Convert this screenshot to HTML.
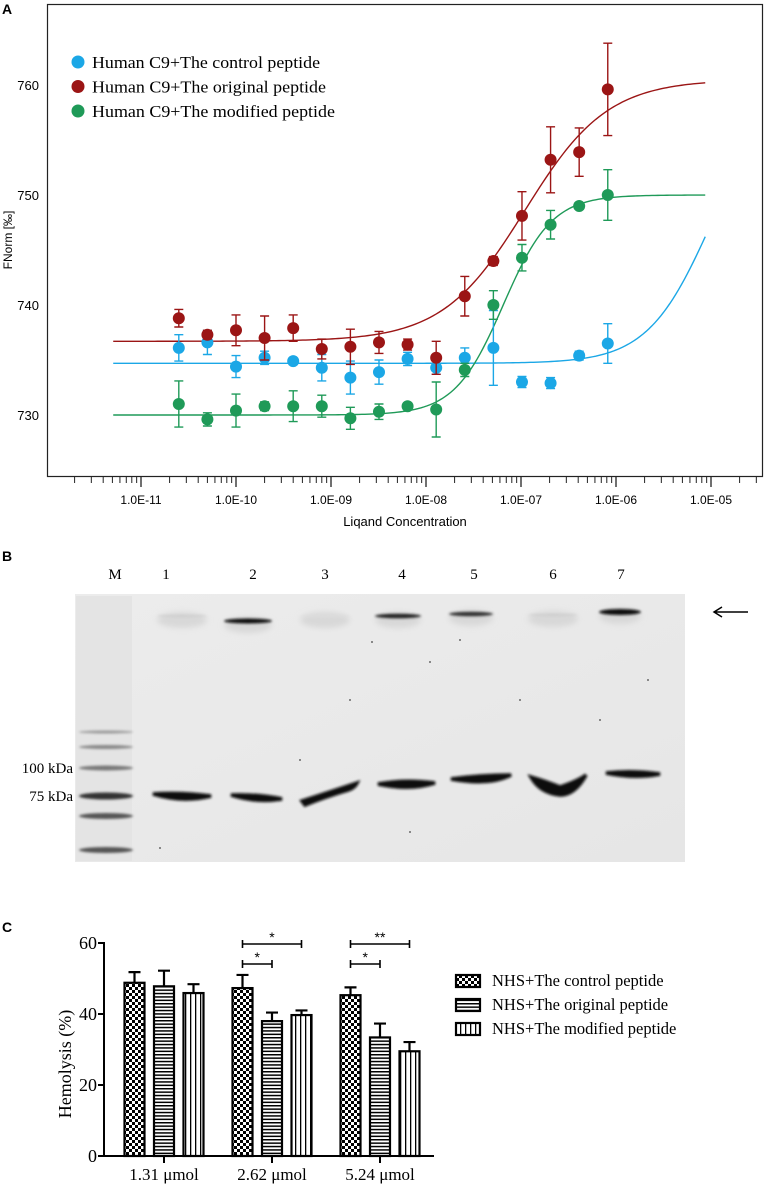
<!DOCTYPE html>
<html><head><meta charset="utf-8"><style>
html,body{margin:0;padding:0;background:#fff;}
svg{display:block;}
.sans{font-family:"Liberation Sans",sans-serif;}
.serif{font-family:"Liberation Serif",serif;}
</style></head><body>
<svg id="fig" width="765" height="1188" viewBox="0 0 765 1188" xmlns="http://www.w3.org/2000/svg">
<defs>
  <pattern id="pCheck" width="6" height="6" patternUnits="userSpaceOnUse"><rect width="6" height="6" fill="#fff"/><rect width="3" height="3" fill="#000"/><rect x="3" y="3" width="3" height="3" fill="#000"/></pattern>
  <pattern id="pHor" width="6" height="3.4" patternUnits="userSpaceOnUse"><rect width="6" height="3.4" fill="#fff"/><rect width="6" height="1.5" fill="#000"/></pattern>
  <pattern id="pVer" width="5" height="6" patternUnits="userSpaceOnUse"><rect width="5" height="6" fill="#fff"/><rect width="1.3" height="6" fill="#000"/></pattern>
  <filter id="blur1" x="-20%" y="-100%" width="140%" height="300%"><feGaussianBlur stdDeviation="1.2"/></filter>
  <filter id="blur3" x="-20%" y="-100%" width="140%" height="300%"><feGaussianBlur stdDeviation="3"/></filter>
  <linearGradient id="gelGrad" x1="0" y1="0" x2="1" y2="1"><stop offset="0" stop-color="#ececec"/><stop offset="1" stop-color="#e6e6e6"/></linearGradient>
</defs>
<g id="panelA"></g>
<g id="panelB"></g>
<g id="panelC"></g>
</svg>
<script>
// ---------- Panel A data ----------
const concIndex = [0,1,2,3,4,5,6,7,8,9,10,11,12,13,14,15];
const concBase = 2.5e-11;
const seriesNames = ["Human C9+The control peptide","Human C9+The original peptide","Human C9+The modified peptide"];
const controlVals = [736.1,736.6,734.4,735.2,734.9,734.3,733.4,733.9,735.1,734.3,735.2,736.1,733.0,732.9,735.4,736.5];
const controlErr  = [1.2,1.1,1.0,0.6,0.3,1.2,1.5,1.1,0.6,0.6,0.9,3.4,0.5,0.5,0.4,1.8];
const originalVals = [738.8,737.3,737.7,737.0,737.9,736.0,736.2,736.6,736.4,735.2,740.8,744.0,748.1,753.2,753.9,759.6];
const originalErr  = [0.8,0.4,1.4,2.0,1.2,0.9,1.6,1.0,0.5,1.5,1.8,0.4,2.2,3.0,2.2,4.2];
const modifiedVals = [731.0,729.6,730.4,730.8,730.8,730.8,729.7,730.3,730.8,730.5,734.1,740.0,744.3,747.3,749.0,750.0];
const modifiedErr  = [2.1,0.6,1.5,0.4,1.4,1.0,1.0,0.7,0.3,2.5,0.6,1.3,1.2,1.3,0.3,2.3];
const fitControl = [734.7,760,1e-5,1.3];
const fitOriginal = [736.7,760.5,1.1e-7,1.0];
const fitModified = [730.0,750.0,6.5e-8,1.7];
const yTicksA = [730,740,750,760];
const xDecadeLabels = ["1.0E-11","1.0E-10","1.0E-09","1.0E-08","1.0E-07","1.0E-06","1.0E-05"];
const xDecades = [-11,-10,-9,-8,-7,-6,-5];

// ---------- Panel C data ----------
const groups = ["1.31 μmol","2.62 μmol","5.24 μmol"];
const hemControl = [48.8,47.3,45.3];
const hemControlErr = [3.0,3.7,2.2];
const hemOriginal = [47.8,38.0,33.4];
const hemOriginalErr = [4.4,2.4,3.9];
const hemModified = [45.9,39.7,29.5];
const hemModifiedErr = [2.5,1.3,2.6];
const hemTicks = [0,20,40,60];
const legendC = ["NHS+The control peptide","NHS+The original peptide","NHS+The modified peptide"];

const NS="http://www.w3.org/2000/svg";
function mk(tag, attrs, parent){const e=document.createElementNS(NS,tag);for(const k in attrs)e.setAttribute(k,attrs[k]);parent.appendChild(e);return e;}

// ===== Panel A =====
const A=document.getElementById('panelA');
const xA = c => 141 + (Math.log10(c)+11)*95;
const yA = v => 85 + (760-v)*11;
let t;
t=mk('text',{x:2,y:14,'font-size':14,'font-weight':'bold',class:'sans'},A);t.textContent='A';


let r=mk('rect',{x:47.5,y:4.5,width:715,height:472,fill:'none',stroke:'#222','stroke-width':1.2},A);


yTicksA.forEach(v=>{
  const l=mk('text',{x:39,y:yA(v)+5,'font-size':13,'text-anchor':'end',class:'sans'},A);
  l.textContent=v;
  
  
});
t=mk('text',{x:0,y:0,'font-size':12,'text-anchor':'middle',class:'sans',transform:'translate(12,240) rotate(-90)'},A);
t.textContent='FNorm [‰]';


for(let d=-12; d<=-5; d++){
  for(let m=1;m<=9;m++){
    const c=m*Math.pow(10,d); const x=xA(c);
    if(x<70||x>757) continue;
    const tk=mk('line',{x1:x,x2:x,y1:477,y2:m===1?487:483,stroke:'#222','stroke-width':m===1?1.3:1},A);
    
    
  }
}
xDecades.forEach((d,i)=>{
  const l=mk('text',{x:xA(Math.pow(10,d)),y:504,'font-size':12,'text-anchor':'middle',class:'sans'},A);
  l.textContent=xDecadeLabels[i];
  
  
});
t=mk('text',{x:405,y:526,'font-size':13,'text-anchor':'middle',class:'sans'},A);
t.textContent='Liqand Concentration';



const colors=['#1ba7e6','#9b1515','#1f9a58'];
const vals=[controlVals,originalVals,modifiedVals];
const errs=[controlErr,originalErr,modifiedErr];
const fits=[fitControl,fitOriginal,fitModified];
const sNames=['control','original','modified'];
fits.forEach((f,s)=>{
  let dstr='';
  for(let i=0;i<=200;i++){
    const lc=Math.log10(5.1e-12)+(Math.log10(8.7e-6)-Math.log10(5.1e-12))*i/200;
    const c=Math.pow(10,lc);
    const q=Math.pow(c/f[2],f[3]);
    const v=f[0]+(f[1]-f[0])*q/(1+q);
    dstr+=(i?'L':'M')+xA(c).toFixed(2)+','+yA(v).toFixed(2);
  }
  const p=mk('path',{d:dstr,fill:'none',stroke:colors[s],'stroke-width':1.4},A);
  
  
});
[0,1,2].forEach(s=>{
  const g=mk('g',{},A);
  
  
  concIndex.forEach((k,i)=>{
    const c=concBase*Math.pow(2,k); const x=xA(c);
    const y1=yA(vals[s][i]+errs[s][i]), y2=yA(vals[s][i]-errs[s][i]);
    const e=mk('path',{d:`M${x},${y1}V${y2}M${x-4.5},${y1}H${x+4.5}M${x-4.5},${y2}H${x+4.5}`,stroke:colors[s],'stroke-width':1.4,fill:'none'},g);
    
    
    const pt=mk('circle',{cx:x,cy:yA(vals[s][i]),r:6,fill:colors[s]},g);
    
    
  });
});
seriesNames.forEach((n,i)=>{
  const y=62+i*24.5;
  const c=mk('circle',{cx:78,cy:y,r:6.5,fill:colors[i]},A);
  
  
  const l=mk('text',{x:92,y:y+6,'font-size':17,class:'serif',textLength:[228,234,243][i],lengthAdjust:'spacingAndGlyphs'},A);
  l.textContent=n;
  
  
});

// ===== Panel B =====
const B=document.getElementById('panelB');
t=mk('text',{x:2,y:561,'font-size':14,'font-weight':'bold',class:'sans'},B);t.textContent='B';


r=mk('rect',{x:75,y:594,width:610,height:268,fill:'url(#gelGrad)'},B);


mk('rect',{x:76,y:596,width:56,height:265,fill:'#e4e4e4'},B);
const laneLbl=[['M',115],['1',166],['2',253],['3',325],['4',402],['5',474],['6',553],['7',621]];
laneLbl.forEach(([s,x])=>{
  const l=mk('text',{x:x,y:579,'font-size':15,'text-anchor':'middle',class:'serif'},B);
  l.textContent=s;
  
  
});
[[732,1.5,'#999'],[747,2,'#888'],[768,2.5,'#777'],[796,3.5,'#333'],[816,3,'#555'],[850,3,'#555']].forEach(([y,h,c])=>{
  const e=mk('ellipse',{cx:106,cy:y,rx:27,ry:h,fill:c,filter:'url(#blur1)'},B);
  
  
});
[[248,621,24,2.5,'#111'],[398,616,23,2.3,'#222'],[471,614,22,2.3,'#333'],[620,612,21,3,'#111'],[182,616,25,1,'#ccc'],[325,616,25,1,'#ddd'],[553,615,25,1,'#ccc']].forEach(([x,y,rx,ry,c])=>{
  mk('ellipse',{cx:x,cy:y+4,rx:rx,ry:8,fill:'#d8d8d8',filter:'url(#blur3)'},B);
  const e=mk('ellipse',{cx:x,cy:y,rx:rx,ry:ry,fill:c,filter:'url(#blur1)'},B);
  
  
});
const bands=[
 'M153,794 Q180,792 211,796 Q182,803 153,794Z',
 'M231,795 Q258,794 282,799 Q255,803 231,795Z',
 'M302,801 Q330,792 357,783 Q354,789 345,791 Q325,797 305,805Z',
 'M378,784 Q405,779 435,783 Q410,791 378,784Z',
 'M451,779 Q480,775 511,775 Q490,786 451,779Z',
 'M531,777 Q545,781 560,787 Q578,781 586,775 Q575,795 560,795 Q540,793 531,777Z',
 'M606,773 Q632,770 660,774 Q635,779 606,773Z'];
bands.forEach(d=>{
  const p=mk('path',{d:d,fill:'#111',stroke:'#111','stroke-width':3.5,filter:'url(#blur1)'},B);
  
  
});
[[372,642],[430,662],[520,700],[600,720],[300,760],[410,832],[160,848],[648,680],[350,700],[460,640]].forEach(([x,y])=>mk('circle',{cx:x,cy:y,r:0.9,fill:'#444'},B));
t=mk('text',{x:73,y:773,'font-size':15,'text-anchor':'end',class:'serif'},B);t.textContent='100 kDa';


t=mk('text',{x:73,y:801,'font-size':15,'text-anchor':'end',class:'serif'},B);t.textContent='75 kDa';


let ar=mk('path',{d:'M748,612H715M722,607L714,612L722,617',stroke:'#000','stroke-width':1.5,fill:'none'},B);



// ===== Panel C =====
const C=document.getElementById('panelC');
const yC = v => 1156 - v*(213/60);
const groupX = [164,272,380];
t=mk('text',{x:2,y:932,'font-size':14,'font-weight':'bold',class:'sans'},C);t.textContent='C';


let ax=mk('path',{d:'M104,942V1157M103,1156H434',stroke:'#000','stroke-width':2,fill:'none'},C);


hemTicks.forEach(v=>{
  const tk=mk('line',{x1:98,x2:104,y1:yC(v),y2:yC(v),stroke:'#000','stroke-width':2},C);
  
  
  const l=mk('text',{x:97,y:yC(v)+6,'font-size':18,'text-anchor':'end',class:'serif'},C);
  l.textContent=v;
  
  
});
t=mk('text',{x:0,y:0,'font-size':18,'text-anchor':'middle',class:'serif',transform:'translate(71,1064) rotate(-90)'},C);
t.textContent='Hemolysis (%)';


const hv=[hemControl,hemOriginal,hemModified], he=[hemControlErr,hemOriginalErr,hemModifiedErr];
const fills=['url(#pCheck)','url(#pHor)','url(#pVer)'];
groups.forEach((gname,gi)=>{
  const cx=groupX[gi];
  const tk=mk('line',{x1:cx,x2:cx,y1:1156,y2:1163,stroke:'#000','stroke-width':2},C);
  
  
  const l=mk('text',{x:cx,y:1180,'font-size':17,'text-anchor':'middle',class:'serif'},C);
  l.textContent=gname;
  
  
  [0,1,2].forEach(s=>{
    const bx=cx+(s-1)*29.5;
    const top=yC(hv[s][gi]), et=yC(hv[s][gi]+he[s][gi]);
    const e=mk('path',{d:`M${bx},${top}V${et}M${bx-6},${et}H${bx+6}`,stroke:'#000','stroke-width':2.2,fill:'none'},C);
    
    
    const b=mk('rect',{x:bx-10,y:top,width:20,height:1156-top,fill:fills[s],stroke:'#000','stroke-width':2.2},C);
    
    
  });
});
const sigLong=['*','**'], sigGroups=[1,2];
sigGroups.forEach((gi,k)=>{
  const cx=groupX[gi];
  const x0=cx-29.5, x1=cx+29.5, xm=cx;
  const p1=mk('path',{d:`M${x0},940V948M${x0},944H${x1}M${x1},940V948`,stroke:'#000','stroke-width':1.6,fill:'none'},C);
  
  
  const s1=mk('text',{x:(x0+x1)/2,y:942,'font-size':14,'text-anchor':'middle',class:'sans'},C);
  s1.textContent=sigLong[k];
  
  
  const p2=mk('path',{d:`M${x0},960V968M${x0},964H${xm}M${xm},960V968`,stroke:'#000','stroke-width':1.6,fill:'none'},C);
  
  
  const s2=mk('text',{x:(x0+xm)/2,y:962,'font-size':14,'text-anchor':'middle',class:'sans'},C);
  s2.textContent='*';
  
  
});
legendC.forEach((n,i)=>{
  const y=975+i*24;
  const sw=mk('rect',{x:456,y:y,width:24,height:12,fill:fills[i],stroke:'#000','stroke-width':2.2},C);
  
  
  const l=mk('text',{x:492,y:y+11,'font-size':16.5,class:'serif'},C);
  l.textContent=n;
  
  
});
</script>
</body></html>
